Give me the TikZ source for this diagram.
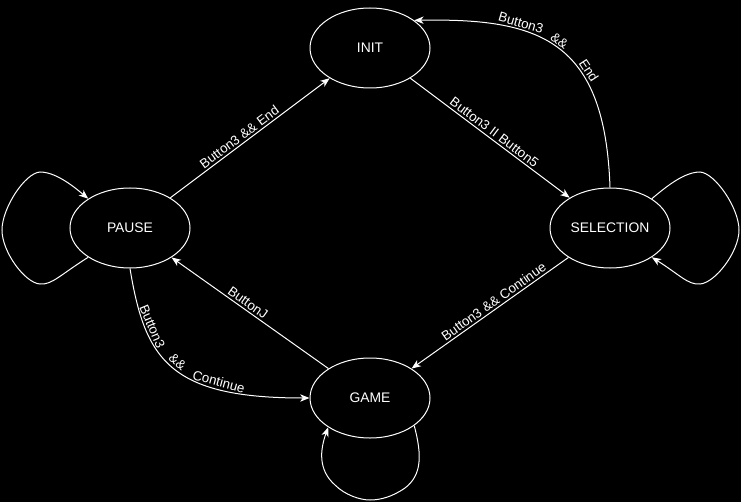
\documentclass[tikz,border=0pt]{standalone}
\usepackage{fontspec}
\setmainfont{Liberation Sans}
\usetikzlibrary{arrows.meta,shapes.geometric}

\begin{document}
\begin{tikzpicture}[
  x=0.75pt, y=-0.75pt,
  font=\fontsize{10}{12}\selectfont,
  st/.style={draw=white, line width=0.75pt, fill=black, ellipse, text=white,
             minimum width=90pt, minimum height=60pt, inner sep=0pt,
             font=\fontsize{10.4}{12}\selectfont},
  arr/.style={-{Stealth[length=7pt,width=5.5pt,inset=2pt]}, draw=white, line width=0.75pt},
  lbl/.style={text=white, inner sep=1.5pt},
]
% ---- page + background ----
\fill[black] (0,0) rectangle (741,502);
\useasboundingbox (0,0) rectangle (741,502);

% ======================= states =======================
\node[st] (INIT)      at (370,48)  {INIT};
\node[st] (PAUSE)     at (130,228) {PAUSE};
\node[st] (SELECTION) at (610,228) {SELECTION};
\node[st] (GAME)      at (370,398) {GAME};

% ======================= transitions =======================
\draw[arr] (PAUSE) -- node[lbl,above,sloped,pos=0.46]{Button3 \&\& End} (INIT);
\draw[arr] (INIT) -- node[lbl,above,sloped]{Button3 II Button5} (SELECTION);
\draw[arr] (SELECTION) -- node[lbl,above,sloped,pos=0.45]{Button3 \&\& Continue} (GAME);
\draw[arr] (GAME) -- node[lbl,above,sloped,pos=0.54]{ButtonJ} (PAUSE);

% curved: selection back to init
\draw[arr] (SELECTION.north) .. controls (605,40) and (540,18) .. (INIT.32)
  node[lbl,above,sloped,pos=0.35]{End}
  node[lbl,above,sloped,pos=0.51]{\&\&}
  node[lbl,above,sloped,pos=0.67]{Button3};

% curved: pause to game
\draw[arr] (PAUSE.south) .. controls (145,360) and (170,398) .. (GAME.west)
  node[lbl,above,sloped,pos=0.26]{Button3}
  node[lbl,above,sloped,pos=0.5]{\&\&}
  node[lbl,above,sloped,pos=0.72]{Continue};

% ---- self loops ----
\draw[arr] (PAUSE.215) .. controls (60,275) and (52,285) .. (40,284)
  .. controls (25,283) and (2,252) .. (2,230)
  .. controls (2,208) and (25,173) .. (40,172)
  .. controls (55,172) and (72,185) .. (PAUSE.145);
\draw[arr] (SELECTION.35) .. controls (668,185) and (685,172) .. (700,172)
  .. controls (715,173) and (739,208) .. (739,230)
  .. controls (739,252) and (715,283) .. (700,284)
  .. controls (688,285) and (680,275) .. (SELECTION.325);
\draw[arr] (GAME.328) .. controls (422,455) and (422,475) .. (405,488)
  .. controls (392,497) and (380,500) .. (370,500)
  .. controls (360,500) and (345,495) .. (335,485)
  .. controls (318,470) and (320,450) .. (GAME.215);
\end{tikzpicture}
\end{document}
